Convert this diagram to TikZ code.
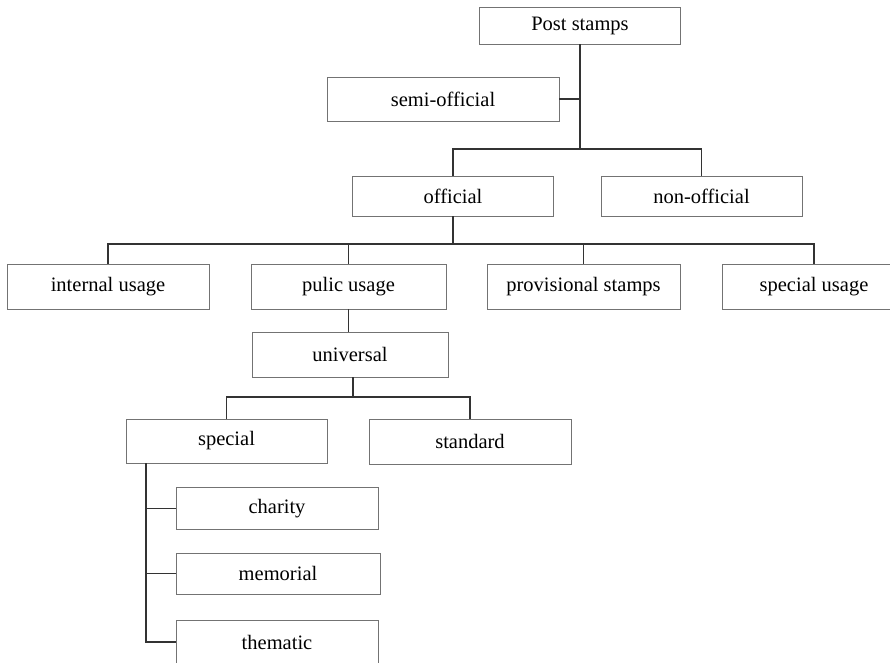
\documentclass[tikz,border=0pt]{standalone}
\usepackage{fontspec}
\setmainfont{Liberation Serif}
\usetikzlibrary{positioning, calc}
\tikzset{
    stampbox/.style = {draw=black!55, line width=0.9pt, inner sep=0pt, text centered,
        minimum width=201pt, minimum height=42pt, font=\fontsize{20.5}{24}\selectfont},
    rowbox/.style = {stampbox, minimum height=45pt},
    link/.style = {draw=black!80, line width=1.3pt},
}
\begin{document}
\begin{tikzpicture}[x=1pt,y=-1pt]
            \useasboundingbox (0,0) rectangle (890,662);
            \clip (0,0) rectangle (890,662);
            % top of the tree
            \node (post) [stampbox, minimum height=37pt] at (580,25.5) {Post stamps};
            \node (semi) [stampbox, minimum width=232pt, minimum height=44pt] at (443,99) {semi-official};
            \node (official) [stampbox, minimum height=40pt] at (453,196) {official};
            \node (nonofficial) [stampbox, minimum height=40pt] at (701.5,196) {non-official};
            % usage row
            \node (internal) [rowbox, minimum width=202pt] at (108,286.5) {internal usage};
            \node (public) [rowbox, minimum width=195pt] at (348.5,286.5) {pulic usage};
            \node (provisional) [rowbox, minimum width=193pt] at (583.5,286.5) {provisional stamps};
            \node (specialusage) [rowbox, minimum width=184pt] at (814,286.5) {special usage};
            \node (universal) [rowbox, minimum width=196pt] at (350,354.5) {universal};
            \node (special) [stampbox, minimum height=44pt] at (226.5,441) {special};
            \node (standard) [rowbox, minimum width=202pt] at (470,441.5) {standard};
            % kinds of special stamps
            \node (charity) [stampbox, minimum width=202pt] at (277,508.5) {charity};
            \node (memorial) [stampbox, minimum width=204pt, minimum height=41pt] at (278,573.5) {memorial};
            \node (thematic) [stampbox, minimum width=202pt, minimum height=44pt] at (277,642) {thematic};
            % connectors
            \coordinate (fork1) at (580,149);
            \coordinate (fork2) at (453,244);
            \coordinate (fork3) at (353,397);
            \coordinate (trunk) at (146,642);
            \draw[link] (post.south) -- (fork1);
            \draw[link] (semi.east) -- (semi.east -| post.south);
            \draw[link] (official.north) |- (fork1) -| (nonofficial.north);
            \draw[link] (official.south) -- (fork2);
            \draw[link] (internal.north) |- (fork2) -| (specialusage.north);
            \draw[link] (public.north) -- (public.north |- fork2);
            \draw[link] (provisional.north) -- (provisional.north |- fork2);
            \draw[link] (public.south) -- (public.south |- universal.north);
            \draw[link] (fork3 |- universal.south) -- (fork3);
            \draw[link] (special.north) |- (fork3) -| (standard.north);
            \draw[link] (trunk |- special.south) -- (trunk) -- (thematic.west);
            \draw[link] (trunk |- charity.west) -- (charity.west);
            \draw[link] (trunk |- memorial.west) -- (memorial.west);
\end{tikzpicture}
\end{document}
